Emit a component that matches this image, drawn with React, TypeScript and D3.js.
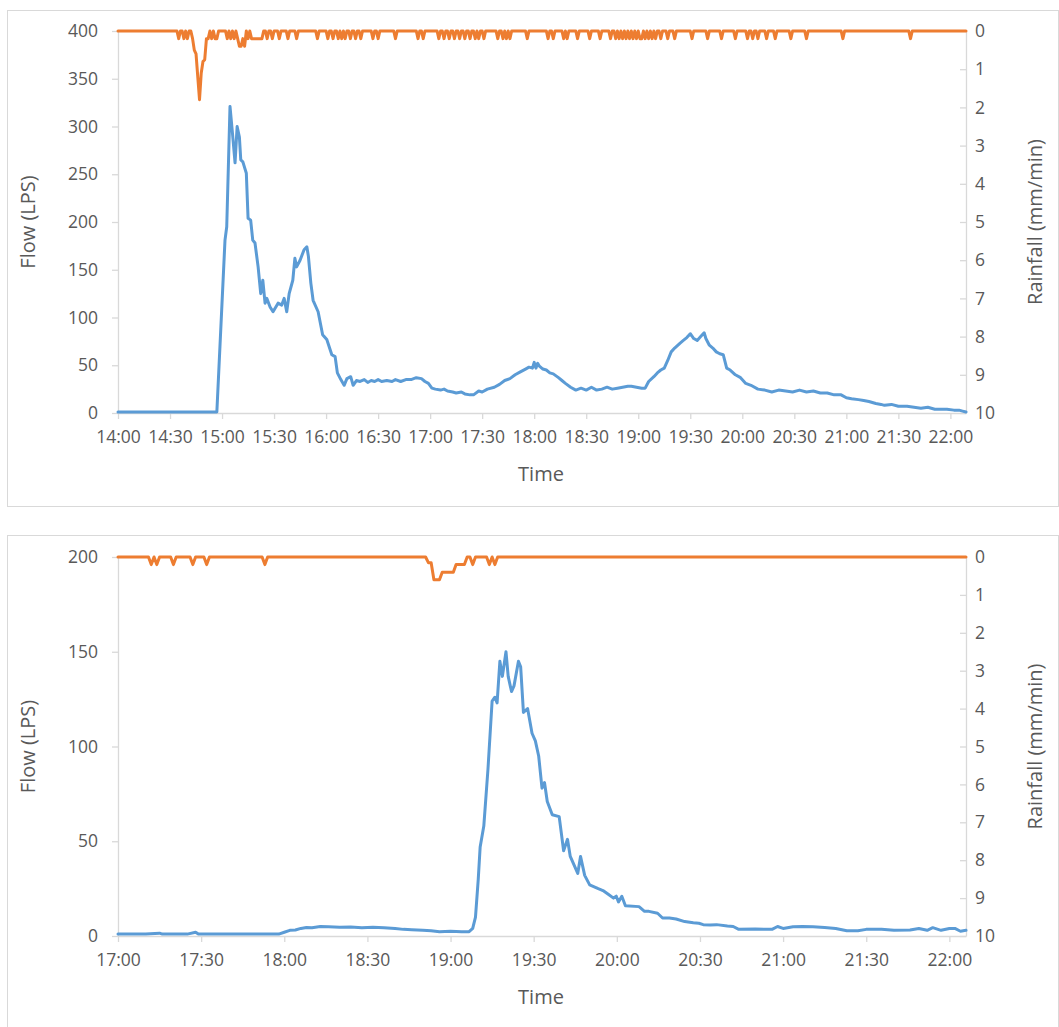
import React, { useEffect, useRef } from 'react';
import * as d3 from 'd3';

// minutes after the start of each record, flow in LPS
const flowEvent1: [number, number][] = [
  [0, 1], [20, 1], [40, 1], [57, 1], [61.7, 181], [62.7, 195], [64.6, 321], [66, 293], [67.5, 262], [68.7, 300],
  [70, 289], [70.8, 265], [72, 263], [74, 251], [75, 204], [76.5, 202], [77.7, 181], [79, 178], [80.8, 153],
  [82.3, 125], [83.5, 139], [84.8, 115], [85.8, 120], [87.7, 111], [89.4, 106], [92.3, 115], [94.4, 113],
  [95.8, 120], [97.3, 106], [98.7, 125], [100.8, 139], [102, 162], [103, 153], [105, 160], [107.3, 171],
  [108.9, 174], [109.8, 164], [111.2, 136], [112.5, 118], [115.4, 106], [118, 82], [120.4, 77], [123.3, 61],
  [125.2, 59], [126.5, 42], [128.5, 35], [130.4, 29], [132, 36], [134.2, 38], [135.6, 29], [137.5, 34], [139.6, 33],
  [142, 35], [144, 32], [146, 34], [148, 33], [150, 35], [152, 33], [155, 34], [158, 33], [160, 35], [163, 33],
  [166, 35], [169, 35], [172, 37], [175, 36], [177, 33], [179, 31], [181, 26], [183, 25], [186, 24], [188, 25],
  [190, 23], [193, 22], [195, 21], [198, 22], [200, 20], [203, 19], [205, 19], [208, 23], [210, 22], [213, 25],
  [217, 27], [220, 30], [223, 34], [226, 36], [229, 40], [232, 43], [235, 46], [237, 48], [239, 47], [240, 53],
  [241, 47], [242, 52], [243, 49], [245, 46], [247, 45], [249, 42], [251, 41], [254, 37], [256, 34], [258, 31],
  [261, 27], [264, 24], [267, 26], [270, 24], [273, 27], [276, 24], [279, 25], [282, 27], [285, 25], [288, 26],
  [291, 27], [294, 28], [296, 28], [299, 27], [302, 26], [304, 26], [306, 33], [309, 38], [311, 42], [313, 45],
  [315, 47], [317, 55], [319, 64], [321, 68], [324, 73], [326, 76], [328, 79], [330, 83], [332, 78], [334, 76],
  [336, 80], [338, 84], [339, 78], [341, 71], [343, 68], [345, 64], [347, 62], [349, 61], [351, 47], [353, 45],
  [356, 40], [359, 37], [362, 31], [365, 29], [369, 25], [373, 24], [377, 22], [381, 24], [385, 23], [389, 22],
  [393, 24], [397, 22], [401, 23], [405, 21], [409, 21], [413, 19], [417, 19], [420, 16], [423, 15], [427, 14],
  [430, 13], [433, 12], [437, 10], [440, 9], [442, 8], [446, 9], [450, 7], [455, 7], [459, 6], [463, 5],
  [467, 6], [471, 4], [474, 4], [478, 4], [482, 3], [485, 3], [487, 2], [489, 1],
];

// minutes with rain recorded, mm/min (all other minutes are 0)
const rainEvent1: [number, number][] = [
  [35, 0.2], [38, 0.2], [40, 0.2], [43, 0.2], [44, 0.5], [45, 0.6], [46, 1.2], [47, 1.8], [48, 1.1], [49, 0.8],
  [50, 0.75], [51, 0.2], [52, 0.2], [54, 0.2], [56, 0.2], [57, 0.2], [63, 0.2], [65, 0.2], [67, 0.2], [69, 0.2],
  [70, 0.4], [71, 0.4], [72, 0.2], [73, 0.4], [75, 0.2], [77, 0.2], [78, 0.2], [79, 0.2], [80, 0.2], [81, 0.2],
  [82, 0.2], [83, 0.2], [86, 0.2], [89, 0.2], [93, 0.2], [98, 0.2], [103, 0.2], [115, 0.2], [121, 0.2], [124, 0.2],
  [127, 0.2], [129, 0.2], [131, 0.2], [134, 0.2], [137, 0.2], [140, 0.2], [147, 0.2], [150, 0.2], [160, 0.2],
  [173, 0.2], [176, 0.2], [185, 0.2], [188, 0.2], [191, 0.2], [194, 0.2], [197, 0.2], [200, 0.2], [203, 0.2],
  [206, 0.2], [208, 0.2], [211, 0.2], [219, 0.2], [222, 0.2], [224, 0.2], [226, 0.2], [236, 0.2], [248, 0.2],
  [251, 0.2], [257, 0.2], [259, 0.2], [265, 0.2], [272, 0.2], [278, 0.2], [284, 0.2], [287, 0.2], [289, 0.2],
  [291, 0.2], [293, 0.2], [295, 0.2], [297, 0.2], [299, 0.2], [301, 0.2], [302, 0.2], [304, 0.2], [306, 0.2],
  [308, 0.2], [310, 0.2], [313, 0.2], [317, 0.2], [321, 0.2], [331, 0.2], [340, 0.2], [348, 0.2], [356, 0.2],
  [363, 0.2], [366, 0.2], [369, 0.2], [374, 0.2], [379, 0.2], [388, 0.2], [397, 0.2], [418, 0.2], [457, 0.2],
];

const flowEvent2: [number, number][] = [
  [0, 1], [10, 1], [15, 1.5], [16, 1], [25, 1], [28, 2], [29, 1], [40, 1], [50, 1], [58, 1], [60, 2], [62, 3],
  [64, 3.2], [66, 4], [68, 4.5], [70, 4.4], [73, 5], [76, 4.9], [80, 4.6], [84, 4.8], [88, 4.4], [92, 4.6],
  [96, 4.4], [100, 4], [103, 3.5], [106, 3.3], [110, 3], [113, 2.8], [116, 2.3], [120, 2.5], [124, 2.2],
  [126.7, 2.3], [128, 4], [129, 10], [130, 30], [130.7, 47], [132, 58], [133.5, 88], [135, 124], [136, 126],
  [136.8, 123], [137.8, 145], [138.7, 137], [140, 150], [140.8, 137], [142, 129], [142.9, 132], [144.5, 145],
  [145.3, 142], [146.3, 118], [147.8, 120], [149.4, 107], [150.6, 103], [151.8, 95], [153, 78], [153.9, 81],
  [154.9, 71], [156.7, 64], [159.2, 63], [160.8, 45], [162.2, 51], [163.2, 42], [165.9, 33], [166.9, 42],
  [168.4, 32], [170.2, 27], [173.3, 25], [175, 24], [176.9, 22], [178.8, 20], [179.8, 21], [180.6, 18],
  [181.8, 21], [183.1, 16], [188, 15.5], [190, 13], [191.6, 13], [194.7, 12], [196.5, 9.5], [199, 9.5],
  [201.4, 9], [204.5, 7.6], [207.6, 7], [209.6, 6.7], [211.2, 6], [213.7, 5.8], [216, 6], [219.9, 5.3],
  [222, 5], [224, 3.5], [230, 3.7], [236, 3.5], [238, 5], [240, 4], [243.6, 4.9], [247, 5], [250.8, 4.9],
  [255, 4.5], [259, 4], [263, 2.8], [267, 2.8], [270, 3.5], [275.5, 3.5], [280, 3], [285.8, 3.2], [289, 4],
  [292, 3], [294, 4.4], [297, 3], [300, 4], [302, 4], [304, 2.5], [306, 3],
];

const rainEvent2: [number, number][] = [
  [12, 0.2], [14, 0.2], [20, 0.2], [27, 0.2], [32, 0.2], [53, 0.2], [112, 0.15], [113, 0.15], [114, 0.6],
  [115, 0.6], [116, 0.6], [117, 0.4], [118, 0.4], [119, 0.4], [120, 0.4], [121, 0.4], [122, 0.2], [123, 0.2],
  [124, 0.2], [125, 0.2], [128, 0.2], [134, 0.2], [136, 0.2],
];

const flowTicks1 = [0, 50, 100, 150, 200, 250, 300, 350, 400];
const flowTicks2 = [0, 50, 100, 150, 200];
const rainTicks = [0, 1, 2, 3, 4, 5, 6, 7, 8, 9, 10];

const FONT = '"Open Sans", "Noto Sans", sans-serif';
const GRID = '#d9d9d9';
const TEXT = '#595959';

function Panel({ top, height, startHour, endMin, flow, rain, flowTicks }: any) {
  const ref = useRef<SVGGElement>(null);

  useEffect(() => {
    const g = d3.select(ref.current);
    g.selectAll('*').remove();

    const plotTop = top + 21;
    const plotBottom = top + height;
    const left = 118, right = 966;
    const t = (m: number) => new Date(2000, 0, 1, startHour, 0, m * 60);

    const x = d3.scaleTime().domain([t(0), t(endMin)]).range([left, right]);
    const yFlow = d3.scaleLinear().domain([0, d3.max(flowTicks) as number]).range([plotBottom, plotTop]);
    const yRain = d3.scaleLinear().domain([0, 10]).range([plotTop, plotBottom]);

    const style = (sel: any) => {
      sel.select('.domain').attr('stroke', GRID).attr('stroke-width', 1.3);
      sel.selectAll('line').attr('stroke', GRID).attr('stroke-width', 1.3);
      sel.selectAll('text').attr('fill', TEXT).style('font-size', '17.5px').style('font-family', FONT);
    };

    g.append('g')
      .attr('transform', `translate(0,${plotBottom})`)
      .call(d3.axisBottom(x).ticks(d3.timeMinute.every(30)).tickFormat(d3.timeFormat('%H:%M') as any)
        .tickSize(6).tickSizeOuter(0).tickPadding(12))
      .call(style);

    g.append('g')
      .attr('transform', `translate(${left},0)`)
      .call(d3.axisLeft(yFlow).tickValues(flowTicks).tickSize(6).tickSizeOuter(0).tickPadding(14))
      .call(style);

    // rainfall ticks point into the plot
    g.append('g')
      .attr('transform', `translate(${right},0)`)
      .call(d3.axisRight(yRain).tickValues(rainTicks).tickSize(-6).tickSizeOuter(0).tickPadding(9))
      .call(style);

    const rainMap = new Map(rain.map((d: [number, number]) => [d[0], d[1]]));
    const rainSeries = d3.range(0, Math.floor(endMin) + 1).map(m => [m, (rainMap.get(m) as number) ?? 0]);

    const flowLine = d3.line<[number, number]>().x(d => x(t(d[0]))).y(d => yFlow(d[1]));
    const rainLine = d3.line<number[]>().x(d => x(t(d[0]))).y(d => yRain(d[1]));

    g.append('path').datum(flow).attr('d', flowLine as any)
      .attr('fill', 'none').attr('stroke', '#5b9bd5').attr('stroke-width', 3)
      .attr('stroke-linejoin', 'round').attr('stroke-linecap', 'round');

    g.append('path').datum(rainSeries).attr('d', rainLine as any)
      .attr('fill', 'none').attr('stroke', '#ed7d31').attr('stroke-width', 3)
      .attr('stroke-linejoin', 'round').attr('stroke-linecap', 'round');

    const mid = (plotTop + plotBottom) / 2;
    g.append('text').attr('transform', `translate(35,${mid}) rotate(-90)`)
      .attr('text-anchor', 'middle').attr('fill', TEXT)
      .style('font-size', '20px').style('font-family', FONT).text('Flow (LPS)');
    g.append('text').attr('transform', `translate(1042,${mid}) rotate(-90)`)
      .attr('text-anchor', 'middle').attr('fill', TEXT)
      .style('font-size', '20px').style('font-family', FONT).text('Rainfall (mm/min)');
    g.append('text').attr('x', (left + right) / 2 - 1).attr('y', plotBottom + 68)
      .attr('text-anchor', 'middle').attr('fill', TEXT)
      .style('font-size', '20px').style('font-family', FONT).text('Time');
  }, []);

  return <g ref={ref} />;
}

export default function App() {
  return (
    <svg width={1059} height={1027} style={{ position: 'absolute', left: 0, top: 0, background: '#fff' }}>
      <rect x={7.5} y={10.5} width={1051} height={496} fill="#fff" stroke={GRID} />
      <rect x={7.5} y={535.5} width={1051} height={500} fill="#fff" stroke={GRID} />
      <Panel top={10} height={403} startHour={14} endMin={489} flow={flowEvent1} rain={rainEvent1} flowTicks={flowTicks1} />
      <Panel top={536} height={400} startHour={17} endMin={306} flow={flowEvent2} rain={rainEvent2} flowTicks={flowTicks2} />
    </svg>
  );
}
